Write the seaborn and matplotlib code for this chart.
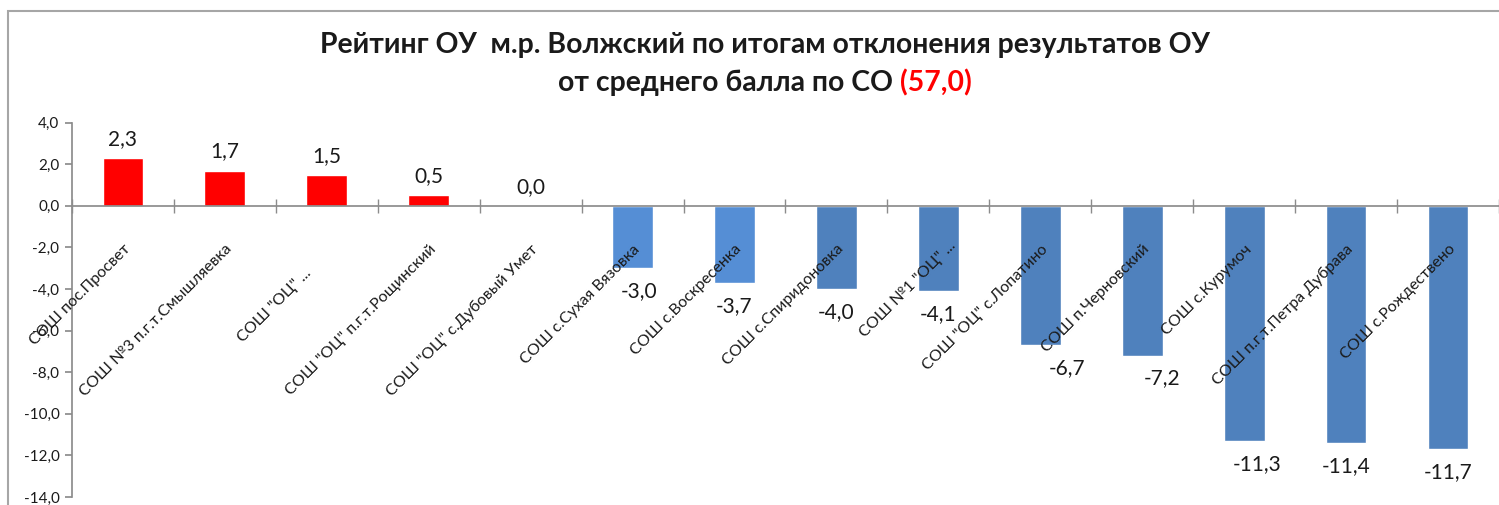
import matplotlib
matplotlib.use("Agg")
import numpy as np
import matplotlib.pyplot as plt
import seaborn as sns
from matplotlib.patches import Rectangle
from matplotlib.ticker import FuncFormatter

# schools and their deviation from the regional mean score
schools = [
    'СОШ пос.Просвет',
    'СОШ №3 п.г.т.Смышляевка',
    'СОШ "ОЦ" ...',
    'СОШ "ОЦ" п.г.т.Рощинский',
    'СОШ "ОЦ" с.Дубовый Умет',
    'СОШ с.Сухая Вязовка',
    'СОШ с.Воскресенка',
    'СОШ с.Спиридоновка',
    'СОШ №1 "ОЦ" ...',
    'СОШ "ОЦ" с.Лопатино',
    'СОШ п.Черновский',
    'СОШ с.Курумоч',
    'СОШ п.г.т.Петра Дубрава',
    'СОШ с.Рождествено',
]
deviation = [2.3, 1.7, 1.5, 0.5, 0.0, -3.0, -3.7, -4.0, -4.1, -6.7, -7.2, -11.3, -11.4, -11.7]
mean_score = "57,0"

# styling
bar_colors = ['#FF0000'] * 5 + ['#558ED5'] * 2 + ['#4F81BD'] * 7
label_shift = {2: (-0.22, -1.15), 8: (0.1, 0.2)}      # (category units, data units)
value_shift = {5: 5, 9: 19, 10: 14, 11: 9}             # points, to the right

sns.set_theme(style='white')
plt.rcParams['font.family'] = ['Lato', 'DejaVu Sans']

fig = plt.figure(figsize=(14.99, 5.05), dpi=100)
ax = fig.add_axes([0.048, 0.016, 0.952, 0.741])

sns.barplot(x=schools, y=deviation, hue=schools, palette=bar_colors,
            saturation=1, width=0.4, legend=False, ax=ax)

ax.set_ylim(-14, 4)
ax.set_xlim(-0.5, len(schools) - 0.5)
ax.set_yticks(np.arange(-14, 5, 2))
ax.yaxis.set_major_formatter(FuncFormatter(lambda v, p: f"{v:.1f}".replace('.', ',')))
ax.set_xticks(np.arange(-0.5, len(schools), 1))
ax.set_xticklabels([])
ax.set_xlabel('')
ax.set_ylabel('')

for s in ['top', 'right']:
    ax.spines[s].set_visible(False)
ax.spines['bottom'].set_position(('data', 0))
ax.spines['bottom'].set_color('#8C8C8C')
ax.spines['left'].set_color('#8C8C8C')
ax.tick_params(axis='x', bottom=True, direction='inout', length=10, color='#8C8C8C', width=1)
ax.tick_params(axis='y', left=True, direction='out', length=5, color='#8C8C8C',
               labelsize=11, labelcolor='#1A1A1A', pad=4)

# value labels
for i, v in enumerate(deviation):
    off = 13.7 if v >= 0 else -16.5
    ax.annotate(f"{v:.1f}".replace('.', ','), xy=(i, v), xytext=(value_shift.get(i, 0), off),
                textcoords='offset points', ha='center', va='center',
                fontsize=15, color='#1A1A1A')

# category labels
for i, name in enumerate(schools):
    dx, dy = label_shift.get(i, (0, 0))
    ax.text(i + dx, -1.75 + dy, name, rotation=45, rotation_mode='anchor',
            ha='right', va='top', fontsize=11.5, color='#1A1A1A', clip_on=False)

# title
fig.text(0.51, 0.911, 'Рейтинг ОУ  м.р. Волжский по итогам отклонения результатов ОУ',
         ha='center', va='center', fontsize=20.4, fontweight='bold', color='#1A1A1A')
t1 = fig.text(558 / 1499, 0.836, 'от среднего балла по СО ', ha='left', va='center',
              fontsize=20.4, fontweight='bold', color='#1A1A1A')
fig.canvas.draw()
bb = t1.get_window_extent()
fig.text(bb.x1 / fig.bbox.width, 0.836, f"({mean_score})", ha='left', va='center',
         fontsize=20.4, fontweight='bold', color='#FF0000')

# chart frame
fig.patches.append(Rectangle((8 / 1499, -0.1), 1.2, 0.1 + (505 - 11) / 505,
                             transform=fig.transFigure, fill=False,
                             edgecolor='#A6A6A6', linewidth=1.5))

fig.savefig('out.png', dpi=100)
